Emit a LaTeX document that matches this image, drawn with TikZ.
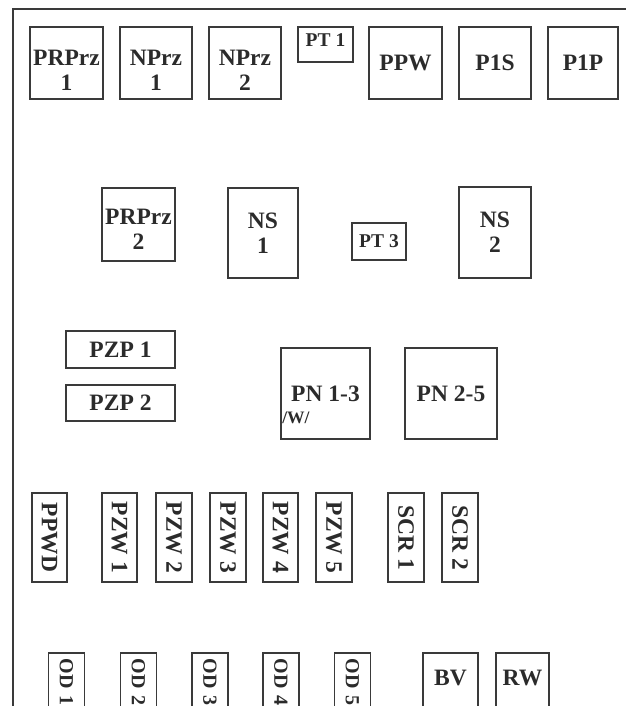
\documentclass[tikz,border=0pt]{standalone}
\usepackage{fontspec}
\setmainfont{Liberation Serif}
\definecolor{boxline}{HTML}{3A3A3A}
\definecolor{boxtext}{HTML}{2B2B2B}

\begin{document}
\begin{tikzpicture}[x=1pt, y=-1pt,
    every node/.style={text=boxtext, font=\bfseries\fontsize{23.5}{25}\selectfont},
    box/.style={draw=boxline, line width=1.8pt, inner sep=0pt, align=center},
    bigbox/.style={box, minimum width=72, minimum height=72},
    tallbox/.style={box, minimum width=71, minimum height=90},
    tagbox/.style={box, minimum width=54, minimum height=36, font=\bfseries\fontsize{19.5}{20}\selectfont},
    barbox/.style={box, minimum width=109, minimum height=36.5},
    pnbox/.style={box, minimum width=90, minimum height=91},
    vbox/.style={box, rotate=-90, minimum width=89, minimum height=35.5},
    odbox/.style={box, rotate=-90, anchor=west, text width=88, align=left, inner xsep=6pt, minimum height=36, font=\bfseries\fontsize{20}{21}\selectfont},
    topbox/.style={box, anchor=north, text height=33, text depth=60}]
    \useasboundingbox (0,0) rectangle (625,706);

    % frame
    \draw[boxline, line width=2pt] (13,720) -- (13,9.5) -- (630,9.5);

    % first row
    \node[bigbox, minimum width=73, text height=55] (prprz1) at (66.5,63) {PRPrz\\1};
    \node[bigbox, text height=55] (nprz1) at (156,63) {NPrz\\1};
    \node[bigbox, text height=55] (nprz2) at (245,63) {NPrz\\2};
    \node[tagbox, minimum width=55, minimum height=35, text depth=9] (pt1) at (325.5,44.5) {PT 1};
    \node[bigbox, minimum width=73] (ppw) at (405.5,63) {PPW};
    \node[bigbox] (p1s) at (495,63) {P1S};
    \node[bigbox, minimum width=70] (p1p) at (583,63) {P1P};

    % second row
    \node[bigbox, minimum width=73, minimum height=73, text height=50.5] (prprz2) at (138.5,224.5) {PRPrz\\2};
    \node[tallbox, minimum width=70] (ns1) at (263,233) {NS\\1};
    \node[tagbox, minimum height=37] (pt3) at (379,241.5) {PT 3};
    \node[tallbox, minimum width=72, minimum height=91] (ns2) at (495,232.5) {NS\\2};

    % third row
    \node[barbox] (pzp1) at (120.5,349.5) {PZP 1};
    \node[barbox] (pzp2) at (120.5,403) {PZP 2};
    \node[pnbox, minimum width=89] (pn13) at (325.5,393.5) {PN 1-3};
    \node[anchor=base west, inner sep=0pt, font=\bfseries\fontsize{17.5}{18}\selectfont]
        (pnw) at ([shift={(2,-16)}]pn13.south west) {/W/};
    \node[pnbox, minimum width=92] (pn25) at (451,393.5) {PN 2-5};

    % fourth row
    \node[vbox] (ppwd) at (49.5,537.5) {PPWD};
    \node[vbox] (pzw1) at (119.5,537.5) {PZW 1};
    \node[vbox] (pzw2) at (174,537.5) {PZW 2};
    \node[vbox] (pzw3) at (228,537.5) {PZW 3};
    \node[vbox] (pzw4) at (280.5,537.5) {PZW 4};
    \node[vbox] (pzw5) at (334,537.5) {PZW 5};
    \node[vbox] (scr1) at (406,537.5) {SCR 1};
    \node[vbox] (scr2) at (460,537.5) {SCR 2};

    % fifth row, cut off below
    \node[odbox] (od1) at (66.5,652) {OD 1};
    \node[odbox] (od2) at (138.5,652) {OD 2};
    \node[odbox] (od3) at (210,652) {OD 3};
    \node[odbox] (od4) at (281,652) {OD 4};
    \node[odbox] (od5) at (352.5,652) {OD 5};
    \node[topbox, minimum width=55] (bv) at (450.5,652) {BV};
    \node[topbox, minimum width=53] (rw) at (522.5,652) {RW};
\end{tikzpicture}
\end{document}
